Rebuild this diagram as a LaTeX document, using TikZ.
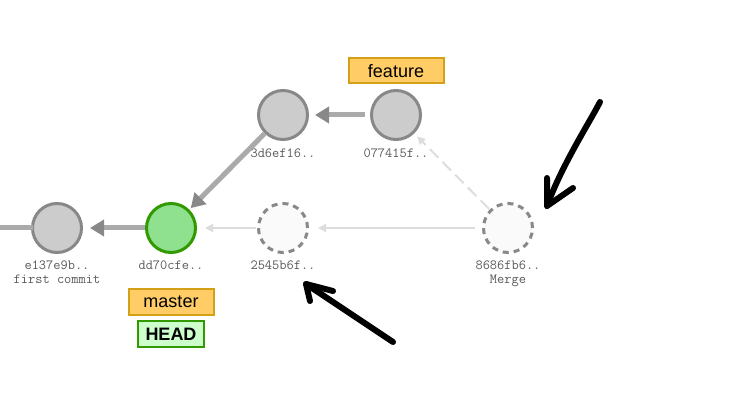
\documentclass[tikz,border=0pt]{standalone}
\usepackage{fontspec}
\setmainfont{Liberation Sans}
\usepackage{xcolor}
\usetikzlibrary{arrows.meta}
\definecolor{cfill}{HTML}{CCCCCC}
\definecolor{cline}{HTML}{888888}
\definecolor{shaft}{HTML}{AAAAAA}
\definecolor{faint}{HTML}{DDDDDD}
\definecolor{gfill}{HTML}{8FE08F}
\definecolor{gline}{HTML}{339900}
\definecolor{bfill}{HTML}{FFCC66}
\definecolor{bline}{HTML}{D4A017}
\definecolor{hfill}{HTML}{CCFFCC}
\definecolor{htext}{HTML}{5A5A5A}

\begin{document}
\begin{tikzpicture}[x=1pt,y=-1pt,
  commit/.style={circle,draw=cline,fill=cfill,line width=3pt,minimum size=49pt,inner sep=0pt},
  headcommit/.style={commit,draw=gline,fill=gfill},
  ghost/.style={commit,fill=white!98!black,dash pattern=on 6pt off 5pt},
  hash/.style={font=\ttfamily\fontsize{14}{13.5}\selectfont,text=htext,align=center,inner sep=0pt},
  branch/.style={draw=bline,fill=bfill,line width=2pt,font=\fontsize{18}{20}\selectfont,minimum height=25pt,inner sep=0pt},
  headbox/.style={branch,draw=gline,fill=hfill,font=\bfseries\fontsize{18}{20}\selectfont},
  parent/.style={draw=shaft,line width=5pt,-{Triangle[width=16pt,length=14pt,color=cline]}},
  futureparent/.style={draw=faint,line width=2pt,-{Triangle[width=8pt,length=8pt]}},
  scribble/.style={draw=black,line width=6pt,line cap=round,line join=round}]

\useasboundingbox[fill=white] (0,0) rectangle (738,411);

% commits
\node[commit] (e137) at (57,228) {};
\node[headcommit] (dd70) at (171,228) {};
\node[commit] (3d6e) at (283,115) {};
\node[commit] (0774) at (396,115) {};
\node[ghost] (2545) at (283,228) {};
\node[ghost] (8686) at (508,228) {};

% hashes
\node[hash,anchor=north] (e137lbl) at (57,261) {e137e9b..\\first commit};
\node[hash,anchor=north] (dd70lbl) at (171,261) {dd70cfe..};
\node[hash,anchor=north] (3d6elbl) at (283,149) {3d6ef16..};
\node[hash,anchor=north] (0774lbl) at (396,149) {077415f..};
\node[hash,anchor=north] (2545lbl) at (283,261) {2545b6f..};
\node[hash,anchor=north] (8686lbl) at (508,261) {8686fb6..\\Merge};

% branches
\node[branch,minimum width=95pt] (feature) at (396,71) {feature};
\node[branch,minimum width=85pt] (master) at (171,302) {master};
\node[headbox,minimum width=66pt,minimum height=26pt] (head) at (171,334) {HEAD};

% parent links
\coordinate (offleft) at (-5,228);
\draw[draw=shaft,line width=5pt,shorten <=-2pt] (e137) -- (offleft);
\draw[parent,shorten >=7pt] (dd70) -- (e137);
\draw[parent,shorten >=2pt] (3d6e) -- (dd70);
\draw[parent,shorten <=5pt,shorten >=6pt] (0774) -- (3d6e);
\draw[futureparent,shorten <=1pt,shorten >=8pt] (2545) -- (dd70);
\draw[futureparent,shorten <=7pt,shorten >=9pt] (8686) -- (2545);
\draw[futureparent,dash pattern=on 12pt off 6pt,shorten <=1pt,shorten >=4pt] (8686) -- (0774);

% hand drawn arrows
\coordinate (tail1) at (600,102);
\coordinate (tip1) at (547,206);
\coordinate (tail2) at (393,342);
\coordinate (tip2) at (306,284);
\draw[scribble] (tail1) .. controls (588,125) and (562,165) .. (tip1);
\draw[scribble] (547,178) -- (tip1) -- (573,188);
\draw[scribble] (tail2) .. controls (360,320) and (330,300) .. (tip2);
\draw[scribble] (310,301) -- (tip2) -- (333,291);
\end{tikzpicture}
\end{document}
